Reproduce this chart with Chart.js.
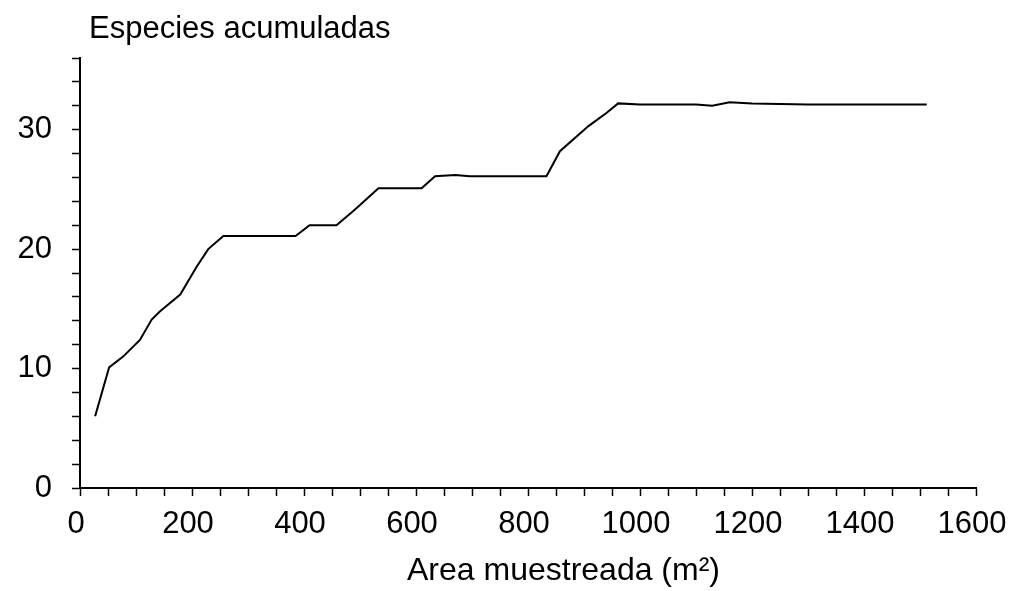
<!DOCTYPE html>
<html>
<head>
<meta charset="utf-8">
<script src="https://cdn.jsdelivr.net/npm/chart.js@4/dist/chart.umd.min.js"></script>
<style>
  html, body { margin: 0; padding: 0; background: #fff; }
  #wrap { width: 1012px; height: 591px; position: relative; }
</style>
</head>
<body>
<div id="wrap"><canvas id="c" width="1012" height="591"></canvas></div>
<script>
// Data
const areaValues = [27, 52, 77, 107, 128, 143, 179, 208, 229, 256, 385, 410, 458, 488, 500, 533, 610, 634, 670, 696, 833, 857, 908, 940, 961, 1000, 1100, 1129, 1160, 1200, 1300, 1512];
const speciesValues = [6, 10.1, 11, 12.4, 14.1, 14.8, 16.2, 18.5, 20, 21.1, 21.1, 22, 22, 23.2, 23.7, 25.1, 25.1, 26.1, 26.2, 26.1, 26.1, 28.2, 30.3, 31.4, 32.2, 32.1, 32.1, 32, 32.3, 32.2, 32.1, 32.1];
const yTitle = 'Especies acumuladas';
const xTitle = 'Area muestreada (m\u00B2)';
const xLabelStep = 200;
const yLabelStep = 10;

const FONT = '"Liberation Sans", Arial, sans-serif';

const points = areaValues.map((x, i) => ({ x: x, y: speciesValues[i] }));

const titlesPlugin = {
  id: 'titles',
  afterDraw(chart) {
    const ctx = chart.ctx;
    ctx.save();
    ctx.fillStyle = '#000';
    ctx.textBaseline = 'alphabetic';
    ctx.textAlign = 'left';
    ctx.font = '31px ' + FONT;
    ctx.fillText(yTitle, 89, 38);
    ctx.font = '32px ' + FONT;
    ctx.fillText(xTitle, 407, 580);
    ctx.restore();
  }
};

new Chart(document.getElementById('c'), {
  type: 'line',
  data: {
    datasets: [{
      data: points,
      borderColor: '#000',
      borderWidth: 2,
      pointRadius: 0,
      tension: 0,
      fill: false
    }]
  },
  options: {
    responsive: false,
    animation: false,
    layout: { padding: { top: 58, right: 36, left: 0, bottom: 0 } },
    plugins: { legend: { display: false }, tooltip: { enabled: false } },
    scales: {
      x: {
        type: 'linear',
        min: 0,
        max: 1600,
        afterFit(scale) { scale.height = 103; scale.paddingRight = 0; scale.paddingLeft = 0; },
        border: { display: true, color: '#000', width: 2 },
        grid: { drawOnChartArea: false, drawTicks: true, tickLength: 8, color: '#000', tickWidth: 1.5 },
        ticks: {
          stepSize: 50,
          autoSkip: false,
          maxRotation: 0,
          labelOffset: -4,
          padding: 10,
          color: '#000',
          font: { family: FONT, size: 31 },
          callback: (v) => (v % xLabelStep === 0 ? String(v) : '')
        }
      },
      y: {
        type: 'linear',
        min: 0,
        max: 36,
        afterFit(scale) { scale.width = 80; scale.paddingTop = 0; scale.paddingBottom = 0; },
        border: { display: true, color: '#000', width: 2 },
        grid: { drawOnChartArea: false, drawTicks: true, tickLength: 8, color: '#000', tickWidth: 1.5 },
        ticks: {
          stepSize: 2,
          autoSkip: false,
          padding: 20,
          color: '#000',
          font: { family: FONT, size: 31 },
          callback: (v) => (v % yLabelStep === 0 ? String(v) : '')
        }
      }
    }
  },
  plugins: [titlesPlugin]
});
</script>
</body>
</html>
